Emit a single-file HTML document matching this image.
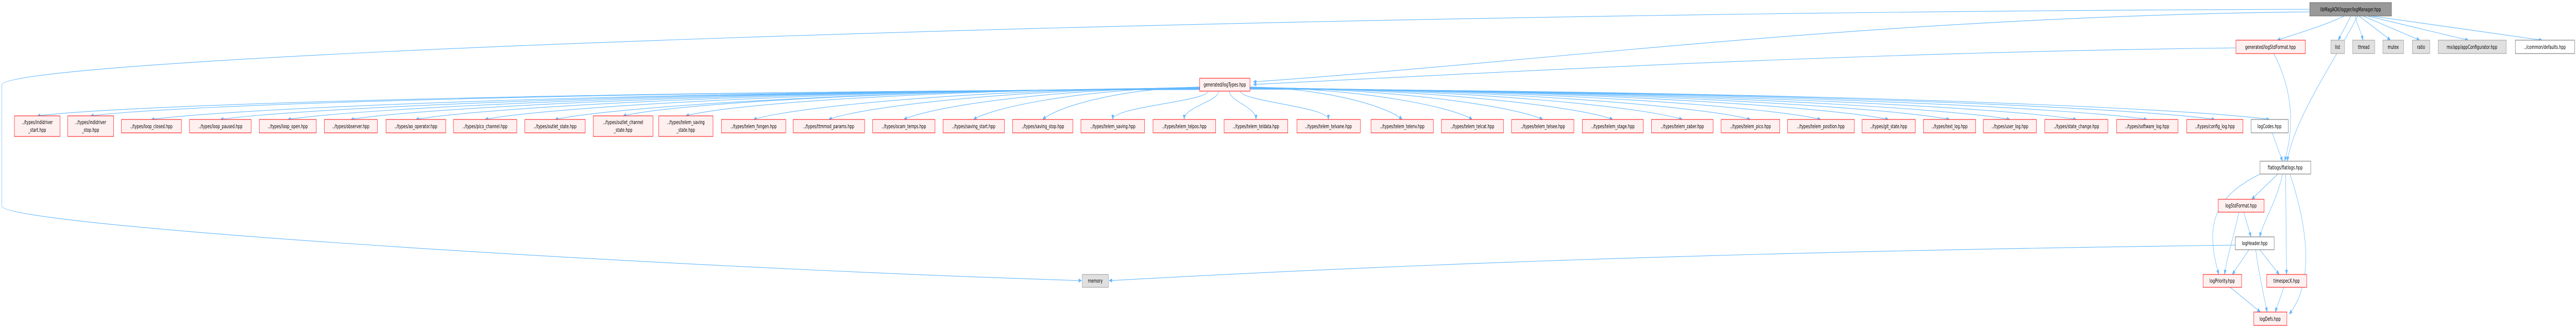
<!DOCTYPE html>
<html><head><meta charset="utf-8"><style>
html,body{margin:0;padding:0;background:#fff;width:100%;height:100%;overflow:hidden;}
svg{display:block;position:absolute;left:0;top:0;width:100vw;height:100vh;}
text{font-family:"DejaVu Sans","Liberation Sans",sans-serif;font-size:10.5px;fill:#000;}
.r{fill:#fff0f0;stroke:#ff0000;stroke-width:1;}
.g{fill:#e0e0e0;stroke:#999;stroke-width:1;}
.w{fill:#fff;stroke:#666;stroke-width:1;}
.root{fill:#999;stroke:#666;stroke-width:1;}
.e{fill:none;stroke:#63b8ff;stroke-width:1.1;}
</style></head><body>
<svg id="s" viewBox="0 0 7681 637" preserveAspectRatio="none" xmlns="http://www.w3.org/2000/svg">
<defs><marker id="a" markerWidth="10" markerHeight="8" refX="9" refY="4" orient="auto" markerUnits="userSpaceOnUse"><path d="M0,0 L10,4 L0,8z" fill="#63b8ff"/></marker></defs>
<g id="edges">
<path class="e" marker-end="url(#a)" d="M6990,31 C6930,50 6850,65 6790,78"/>
<path class="e" marker-end="url(#a)" d="M7010,31 L6972,78"/>
<path class="e" marker-end="url(#a)" d="M7022,31 C7030,50 7040,62 7046,78"/>
<path class="e" marker-end="url(#a)" d="M7034,31 L7128,78"/>
<path class="e" marker-end="url(#a)" d="M7046,31 L7215,78"/>
<path class="e" marker-end="url(#a)" d="M7058,31 L7360,78"/>
<path class="e" marker-end="url(#a)" d="M7070,31 L7580,78"/>
<path class="e" marker-end="url(#a)" d="M6887,23 C5600,32 4600,120 3737,159"/>
<path class="e" marker-end="url(#a)" d="M6667,93 C5500,102 4500,140 3737,164"/>
<path class="e" marker-end="url(#a)" d="M6887,18 C3500,25 5,110 5,165 L5,400 C5,440 2000,520 3225,545"/>
<path class="e" marker-end="url(#a)" d="M6780,104 C6840,180 6840,250 6812,313"/>
<path class="e" marker-end="url(#a)" d="M7030,31 C6960,120 6840,230 6820,313"/>
<path class="e" marker-end="url(#a)" d="M6775,258 L6806,313"/>
<path class="e" marker-end="url(#a)" d="M6792,338 L6714,387"/>
<path class="e" marker-end="url(#a)" d="M6806,338 C6790,390 6748,430 6738,460"/>
<path class="e" marker-end="url(#a)" d="M6815,338 L6818,533"/>
<path class="e" marker-end="url(#a)" d="M6828,338 C6870,420 6910,540 6826,610"/>
<path class="e" marker-end="url(#a)" d="M6739,338 C6610,380 6570,430 6616,533"/>
<path class="e" marker-end="url(#a)" d="M6690,412 L6712,460"/>
<path class="e" marker-end="url(#a)" d="M6676,412 C6660,460 6640,500 6633,533"/>
<path class="e" marker-end="url(#a)" d="M6706,485 L6656,533"/>
<path class="e" marker-end="url(#a)" d="M6738,485 L6796,533"/>
<path class="e" marker-end="url(#a)" d="M6726,485 C6735,530 6752,580 6760,606"/>
<path class="e" marker-end="url(#a)" d="M6665,476 C5000,490 4000,520 3307,545"/>
<path class="e" marker-end="url(#a)" d="M6650,558 L6740,606"/>
<path class="e" marker-end="url(#a)" d="M6810,558 L6784,606"/>
</g>
<g id="nodes">
<rect class="root" x="6887" y="5" width="244" height="26"/><text x="7009" y="22" text-anchor="middle">libMagAOX/logger/logManager.hpp</text>
<rect class="r" x="6667" y="78" width="207" height="26"/><text x="6770" y="95" text-anchor="middle">generated/logStdFormat.hpp</text>
<rect class="g" x="6950" y="78" width="41" height="26"/><text x="6970" y="95" text-anchor="middle">list</text>
<rect class="g" x="7015" y="78" width="66" height="26"/><text x="7048" y="95" text-anchor="middle">thread</text>
<rect class="g" x="7105" y="78" width="62" height="26"/><text x="7136" y="95" text-anchor="middle">mutex</text>
<rect class="g" x="7193" y="78" width="52" height="26"/><text x="7219" y="95" text-anchor="middle">ratio</text>
<rect class="g" x="7270" y="78" width="203" height="26"/><text x="7371" y="95" text-anchor="middle">mx/app/appConfigurator.hpp</text>
<rect class="w" x="7500" y="78" width="177" height="26"/><text x="7588" y="95" text-anchor="middle">../common/defaults.hpp</text>
<rect class="r" x="3577" y="152" width="150" height="25"/><text x="3652" y="168" text-anchor="middle">generated/logTypes.hpp</text>
<rect class="w" x="6739" y="313" width="151" height="25"/><text x="6814" y="329" text-anchor="middle">flatlogs/flatlogs.hpp</text>
<rect class="r" x="6614" y="387" width="137" height="25"/><text x="6682" y="403" text-anchor="middle">logStdFormat.hpp</text>
<rect class="w" x="6665" y="460" width="116" height="25"/><text x="6723" y="476" text-anchor="middle">logHeader.hpp</text>
<rect class="r" x="6569" y="533" width="115" height="25"/><text x="6626" y="549" text-anchor="middle">logPriority.hpp</text>
<rect class="r" x="6759" y="533" width="119" height="25"/><text x="6818" y="549" text-anchor="middle">timespecX.hpp</text>
<rect class="r" x="6720" y="606" width="99" height="26"/><text x="6769" y="623" text-anchor="middle">logDefs.hpp</text>
<rect class="g" x="3227" y="533" width="78" height="25"/><text x="3266" y="549" text-anchor="middle">memory</text>

<rect class="r" x="43" y="225" width="136" height="40"/><text x="111" y="241" text-anchor="middle">../types/indidriver</text><text x="111" y="256" text-anchor="middle">_start.hpp</text>
<rect class="r" x="202" y="225" width="137" height="40"/><text x="270" y="241" text-anchor="middle">../types/indidriver</text><text x="270" y="256" text-anchor="middle">_stop.hpp</text>
<rect class="r" x="362" y="232" width="179" height="26"/><text x="451" y="249" text-anchor="middle">../types/loop_closed.hpp</text>
<rect class="r" x="565" y="232" width="184" height="26"/><text x="657" y="249" text-anchor="middle">../types/loop_paused.hpp</text>
<rect class="r" x="773" y="232" width="170" height="26"/><text x="858" y="249" text-anchor="middle">../types/loop_open.hpp</text>
<rect class="r" x="967" y="232" width="158" height="26"/><text x="1046" y="249" text-anchor="middle">../types/observer.hpp</text>
<rect class="r" x="1151" y="232" width="178" height="26"/><text x="1240" y="249" text-anchor="middle">../types/ao_operator.hpp</text>
<rect class="r" x="1352" y="232" width="189" height="26"/><text x="1446" y="249" text-anchor="middle">../types/pico_channel.hpp</text>
<rect class="r" x="1565" y="232" width="180" height="26"/><text x="1655" y="249" text-anchor="middle">../types/outlet_state.hpp</text>
<rect class="r" x="1769" y="225" width="178" height="40"/><text x="1858" y="241" text-anchor="middle">../types/outlet_channel</text><text x="1858" y="256" text-anchor="middle">_state.hpp</text>
<rect class="r" x="1964" y="225" width="162" height="40"/><text x="2045" y="241" text-anchor="middle">../types/telem_saving</text><text x="2045" y="256" text-anchor="middle">_state.hpp</text>
<rect class="r" x="2151" y="232" width="192" height="26"/><text x="2247" y="249" text-anchor="middle">../types/telem_fxngen.hpp</text>
<rect class="r" x="2365" y="232" width="213" height="26"/><text x="2471" y="249" text-anchor="middle">../types/ttmmod_params.hpp</text>
<rect class="r" x="2602" y="232" width="186" height="26"/><text x="2695" y="249" text-anchor="middle">../types/ocam_temps.hpp</text>
<rect class="r" x="2812" y="232" width="183" height="26"/><text x="2903" y="249" text-anchor="middle">../types/saving_start.hpp</text>
<rect class="r" x="3019" y="232" width="180" height="26"/><text x="3109" y="249" text-anchor="middle">../types/saving_stop.hpp</text>
<rect class="r" x="3223" y="232" width="190" height="26"/><text x="3318" y="249" text-anchor="middle">../types/telem_saving.hpp</text>
<rect class="r" x="3438" y="232" width="187" height="26"/><text x="3531" y="249" text-anchor="middle">../types/telem_telpos.hpp</text>
<rect class="r" x="3650" y="232" width="190" height="26"/><text x="3745" y="249" text-anchor="middle">../types/telem_teldata.hpp</text>
<rect class="r" x="3867" y="232" width="189" height="26"/><text x="3961" y="249" text-anchor="middle">../types/telem_telvane.hpp</text>
<rect class="r" x="4088" y="232" width="186" height="26"/><text x="4181" y="249" text-anchor="middle">../types/telem_telenv.hpp</text>
<rect class="r" x="4298" y="232" width="185" height="26"/><text x="4390" y="249" text-anchor="middle">../types/telem_telcat.hpp</text>
<rect class="r" x="4507" y="232" width="186" height="26"/><text x="4600" y="249" text-anchor="middle">../types/telem_telsee.hpp</text>
<rect class="r" x="4718" y="232" width="182" height="26"/><text x="4809" y="249" text-anchor="middle">../types/telem_stage.hpp</text>
<rect class="r" x="4924" y="232" width="184" height="26"/><text x="5016" y="249" text-anchor="middle">../types/telem_zaber.hpp</text>
<rect class="r" x="5132" y="232" width="175" height="26"/><text x="5219" y="249" text-anchor="middle">../types/telem_pico.hpp</text>
<rect class="r" x="5330" y="232" width="199" height="26"/><text x="5429" y="249" text-anchor="middle">../types/telem_position.hpp</text>
<rect class="r" x="5552" y="232" width="159" height="26"/><text x="5631" y="249" text-anchor="middle">../types/git_state.hpp</text>
<rect class="r" x="5735" y="232" width="156" height="26"/><text x="5813" y="249" text-anchor="middle">../types/text_log.hpp</text>
<rect class="r" x="5914" y="232" width="158" height="26"/><text x="5993" y="249" text-anchor="middle">../types/user_log.hpp</text>
<rect class="r" x="6097" y="232" width="188" height="26"/><text x="6191" y="249" text-anchor="middle">../types/state_change.hpp</text>
<rect class="r" x="6311" y="232" width="183" height="26"/><text x="6402" y="249" text-anchor="middle">../types/software_log.hpp</text>
<rect class="r" x="6520" y="232" width="168" height="26"/><text x="6604" y="249" text-anchor="middle">../types/config_log.hpp</text>
<rect class="w" x="6712" y="232" width="111" height="26"/><text x="6767" y="249" text-anchor="middle">logCodes.hpp</text>
</g>
</svg>
<script>
(function(){
var t=[[111,225],[270,225],[451,232],[657,232],[858,232],[1046,232],[1240,232],[1446,232],[1655,232],[1858,225],[2045,225],[2247,232],[2471,232],[2695,232],[2903,232],[3109,232],[3318,232],[3531,232],[3745,232],[3961,232],[4181,232],[4390,232],[4600,232],[4809,232],[5016,232],[5219,232],[5429,232],[5631,232],[5813,232],[5993,232],[6191,232],[6402,232],[6604,232],[6767,232]];
var g=document.getElementById('edges'),ns='http://www.w3.org/2000/svg';
t.forEach(function(p){
 var tx=p[0],ty=p[1],sx,sy,d;
 if(Math.abs(tx-3652)<500){sx=3652+(tx-3652)*0.15;sy=177;d='M'+sx+','+sy+' C'+sx+','+(sy+20)+' '+tx+','+(ty-25)+' '+tx+','+ty;}
 else{sx=tx<3652?3577:3727;sy=168+Math.min(8,Math.abs(tx-3652)/600);
  var mx=sx+(tx-sx)*0.55;
  d='M'+sx+','+sy+' C'+mx+','+(sy+4)+' '+(tx-(tx-sx)*0.08)+','+(ty-22)+' '+tx+','+ty;}
 var e=document.createElementNS(ns,'path');e.setAttribute('class','e');e.setAttribute('marker-end','url(#a)');e.setAttribute('d',d);g.appendChild(e);
});
})();
</script>
</body></html>
